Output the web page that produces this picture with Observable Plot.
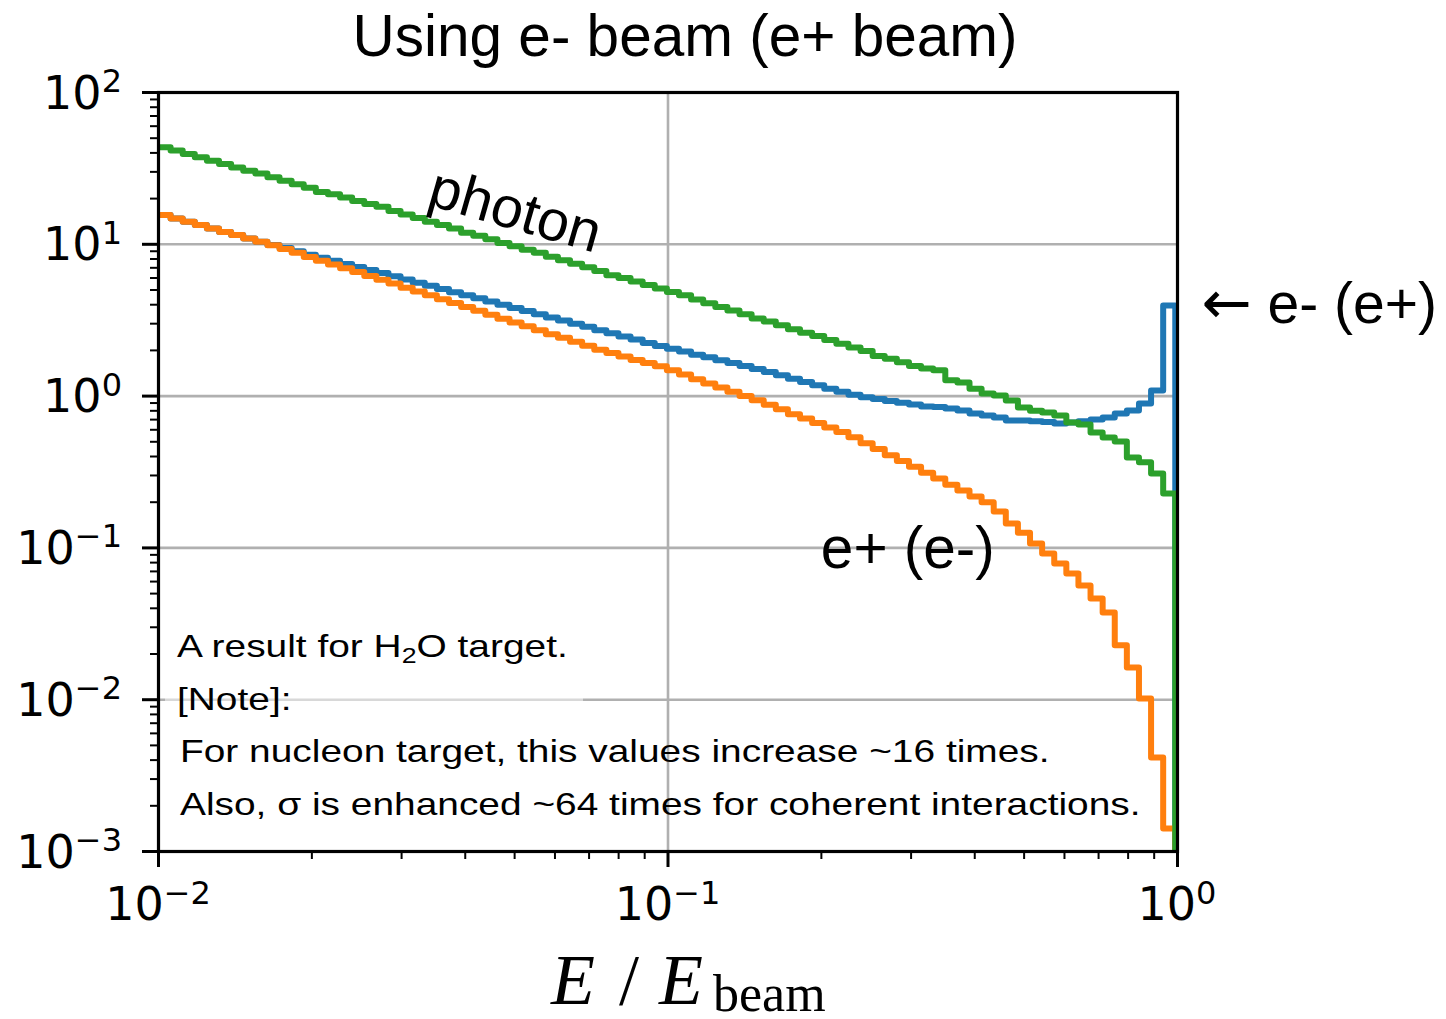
<!DOCTYPE html>
<html>
<head>
<meta charset="utf-8">
<script src="https://cdn.jsdelivr.net/npm/d3@7"></script>
<script src="https://cdn.jsdelivr.net/npm/@observablehq/plot@0.6"></script>
<style>
  html, body { margin: 0; padding: 0; background: #fff; }
  #chart svg { display: block; }
</style>
</head>
<body>
<div id="chart"></div>
<script>
// Energy spectra per log-spaced bin of E / E_beam (84 bins).
const binCount = 84;
const binLow = 0.01;
const binHigh = 0.99;

// photon
const photon = [
  43.6, 41.5, 39.4, 37.5, 35.5, 33.8, 32.1, 30.5, 29.3, 27.6,
  26.2, 24.9, 23.6, 22.1, 21.4, 20.3, 19.3, 18.4, 17.7, 16.6,
  15.7, 14.9, 14.1, 13.4, 12.7, 11.9, 11.4, 10.8, 10.2, 9.7,
  9.2, 8.8, 8.28, 7.85, 7.45, 7.06, 6.67, 6.25, 6.0, 5.69,
  5.4, 5.12, 4.85, 4.62, 4.33, 4.09, 3.87, 3.66, 3.46, 3.24,
  3.10, 2.93, 2.76, 2.61, 2.49, 2.34, 2.21, 2.09, 1.98, 1.84,
  1.76, 1.67, 1.58, 1.52, 1.48, 1.27, 1.23, 1.12, 1.04, 1.01,
  0.935, 0.84, 0.80, 0.78, 0.745, 0.67, 0.65, 0.575, 0.533, 0.502,
  0.394, 0.366, 0.309, 0.228
];

// e- (e+): the beam particle itself, with its peak in the last bin
const beamLepton = [
  15.6, 14.8, 14.1, 13.4, 12.7, 12.05, 11.5, 10.9, 10.4, 9.89,
  9.44, 9.0, 8.55, 8.16, 7.79, 7.43, 7.1, 6.78, 6.47, 6.17,
  5.86, 5.58, 5.33, 5.08, 4.84, 4.62, 4.41, 4.2, 3.99, 3.8,
  3.63, 3.46, 3.3, 3.15, 3.0, 2.86, 2.72, 2.59, 2.47, 2.36,
  2.24, 2.14, 2.05, 1.97, 1.87, 1.80, 1.72, 1.65, 1.58, 1.51,
  1.44, 1.37, 1.30, 1.24, 1.18, 1.12, 1.07, 1.02, 0.984, 0.957,
  0.929, 0.904, 0.879, 0.855, 0.847, 0.828, 0.803, 0.767, 0.745, 0.723,
  0.69, 0.69, 0.684, 0.676, 0.66, 0.67, 0.684, 0.70, 0.723, 0.767,
  0.803, 0.893, 1.09, 3.95
];

// e+ (e-): pair-produced antiparticle
const pairLepton = [
  15.6, 14.8, 14.1, 13.4, 12.7, 12.05, 11.5, 10.9, 10.4, 9.86,
  9.31, 8.79, 8.26, 7.8, 7.36, 6.95, 6.56, 6.19, 5.85, 5.51,
  5.18, 4.89, 4.61, 4.35, 4.1, 3.87, 3.65, 3.44, 3.23, 3.05,
  2.88, 2.72, 2.56, 2.42, 2.28, 2.15, 2.02, 1.92, 1.82, 1.73,
  1.65, 1.57, 1.48, 1.39, 1.29, 1.21, 1.14, 1.07, 1.0, 0.938,
  0.877, 0.819, 0.76, 0.711, 0.665, 0.621, 0.581, 0.536, 0.49, 0.449,
  0.408, 0.374, 0.343, 0.313, 0.286, 0.261, 0.239, 0.218, 0.20, 0.174,
  0.145, 0.126, 0.107, 0.0918, 0.0789, 0.0678, 0.0565, 0.0464, 0.0375, 0.0228,
  0.0163, 0.0102, 0.00416, 0.00142
];

// Axes
const xDomain = [0.01, 1];
const yDomain = [1e-3, 100];
const xTicks = [0.01, 0.1, 1];
const xTickExponents = ["\u22122", "\u22121", "0"];
const xMinorTicks = [0.02, 0.03, 0.04, 0.05, 0.06, 0.07, 0.08, 0.09,
                     0.2, 0.3, 0.4, 0.5, 0.6, 0.7, 0.8, 0.9];
const yTicks = [1e-3, 1e-2, 1e-1, 1, 10, 100];
const yTickExponents = ["\u22123", "\u22122", "\u22121", "0", "1", "2"];
const yMinorTicks = [
  0.002, 0.003, 0.004, 0.005, 0.006, 0.007, 0.008, 0.009,
  0.02, 0.03, 0.04, 0.05, 0.06, 0.07, 0.08, 0.09,
  0.2, 0.3, 0.4, 0.5, 0.6, 0.7, 0.8, 0.9,
  2, 3, 4, 5, 6, 7, 8, 9,
  20, 30, 40, 50, 60, 70, 80, 90
];
const gridXValues = [0.1];
const gridYValues = [0.01, 0.1, 1, 10];

const colors = { beam: "#1f77b4", pair: "#ff7f0e", photon: "#2ca02c" };
const sans = "'Liberation Sans', Arial, Helvetica, sans-serif";
const serif = "'Liberation Serif', 'Times New Roman', serif";
const tickFont = "'DejaVu Sans', sans-serif";

// Log-spaced bin edges
const lo = Math.log10(binLow), hi = Math.log10(binHigh);
const edges = d3.range(binCount + 1).map(k => 10 ** (lo + (hi - lo) * k / binCount));

// Step outline of a histogram; it closes by dropping to the bottom of the axes.
function stepOutline(values) {
  const pts = values.map((v, i) => ({ x: edges[i], y: v }));
  pts.push({ x: edges[binCount], y: values[binCount - 1] });
  pts.push({ x: edges[binCount], y: yDomain[0] / 10 });
  return pts;
}

const lineStyle = { x: "x", y: "y", curve: "step-after", strokeWidth: 6, clip: true, strokeLinejoin: "round" };
const gridStyle = { stroke: "#b0b0b0", strokeOpacity: 1, strokeWidth: 2.6 };
const noLabels = () => "";

const chart = Plot.plot({
  width: 1446,
  height: 1019,
  marginLeft: 158,
  marginRight: 269,
  marginTop: 92,
  marginBottom: 168,
  style: { background: "#fff", fontFamily: tickFont, overflow: "visible" },
  x: { type: "log", domain: xDomain },
  y: { type: "log", domain: yDomain },
  marks: [
    Plot.gridX(gridXValues, gridStyle),
    Plot.gridY(gridYValues, gridStyle),
    Plot.line(stepOutline(beamLepton), { ...lineStyle, stroke: colors.beam }),
    Plot.line(stepOutline(pairLepton), { ...lineStyle, stroke: colors.pair }),
    Plot.line(stepOutline(photon), { ...lineStyle, stroke: colors.photon }),
    Plot.axisX(xTicks, { anchor: "bottom", tickSize: 16, strokeWidth: 3, stroke: "black", tickFormat: noLabels, label: null }),
    Plot.axisX(xMinorTicks, { anchor: "bottom", tickSize: 8, strokeWidth: 2, stroke: "black", tickFormat: noLabels, label: null }),
    Plot.axisY(yTicks, { anchor: "left", tickSize: 16, strokeWidth: 3, stroke: "black", tickFormat: noLabels, label: null }),
    Plot.axisY(yMinorTicks, { anchor: "left", tickSize: 8, strokeWidth: 2, stroke: "black", tickFormat: noLabels, label: null }),
    Plot.frame({ stroke: "black", strokeWidth: 3.2 })
  ]
});

document.getElementById("chart").appendChild(chart);

const svg = d3.select(chart);
const X = chart.scale("x");
const Y = chart.scale("y");

// The axis marks carry only tick lines; their empty label nodes are dropped.
svg.selectAll('g[aria-label$="tick label"]').remove();

function addText(attrs) {
  const t = svg.append("text").attr("fill", "black").attr("text-anchor", "start");
  for (const [k, v] of Object.entries(attrs)) t.attr(k, v);
  return t;
}

// Tick labels written as powers of ten
yTicks.forEach((v, i) => {
  const t = addText({ x: 122, y: Y.apply(v) + 16.5, "text-anchor": "end", "font-family": tickFont, "font-size": 46 });
  t.append("tspan").text("10");
  t.append("tspan").attr("dy", -16.5).attr("font-size", 32).text(yTickExponents[i]);
});
xTicks.forEach((v, i) => {
  const t = addText({ x: X.apply(v), y: 920, "text-anchor": "middle", "font-family": tickFont, "font-size": 46 });
  t.append("tspan").text("10");
  t.append("tspan").attr("dy", -16.5).attr("font-size", 32).text(xTickExponents[i]);
});

// x-axis label: E / E_beam
const xl = addText({ y: 1004, "font-family": serif, "font-size": 72 });
xl.append("tspan").attr("x", 551).attr("font-style", "italic").text("E");
xl.append("tspan").attr("x", 619).text("/");
xl.append("tspan").attr("x", 659).attr("font-style", "italic").text("E");
xl.append("tspan").attr("x", 713).attr("dy", 7).attr("font-size", 52).text("beam");

// Title
addText({ x: 685, y: 56, "text-anchor": "middle", "font-family": sans, "font-size": 58.5 })
  .text("Using e- beam (e+ beam)");

// Curve labels
addText({
  transform: `translate(${X.apply(0.0502)},${Y.apply(16.2)}) rotate(16)`,
  dy: "0.3em", "text-anchor": "middle", "font-family": sans, "font-size": 57.5
}).text("photon");

addText({ x: X.apply(0.2), y: Y.apply(0.0727), "font-family": sans, "font-size": 58.5 })
  .text("e+ (e-)");

const arrowLabel = addText({ x: 1437, y: Y.apply(3.95) + 18, "text-anchor": "end", "font-family": sans, "font-size": 57 });
arrowLabel.append("tspan").attr("font-family", tickFont).attr("font-size", 60).text("\u2190");
arrowLabel.append("tspan").text(" e- (e+)");

// Note box in the lower left corner
svg.append("rect")
  .attr("x", 165).attr("y", 618).attr("width", 418).attr("height", 110)
  .attr("fill", "white").attr("fill-opacity", 0.5);

function noteLine(x, y) {
  return addText({ transform: `translate(${x},${y}) scale(1.215,1)`, "font-family": sans, "font-size": 32 });
}
const n1 = noteLine(177, 657);
n1.append("tspan").text("A result for H");
n1.append("tspan").attr("font-size", 22).attr("dy", 6).text("2");
n1.append("tspan").attr("dy", -6).text("O target.");
noteLine(177, 710).text("[Note]:");
noteLine(180, 762).text("For nucleon target, this values increase ~16 times.");
noteLine(180, 815).text("Also, \u03c3 is enhanced ~64 times for coherent interactions.");
</script>
</body>
</html>
